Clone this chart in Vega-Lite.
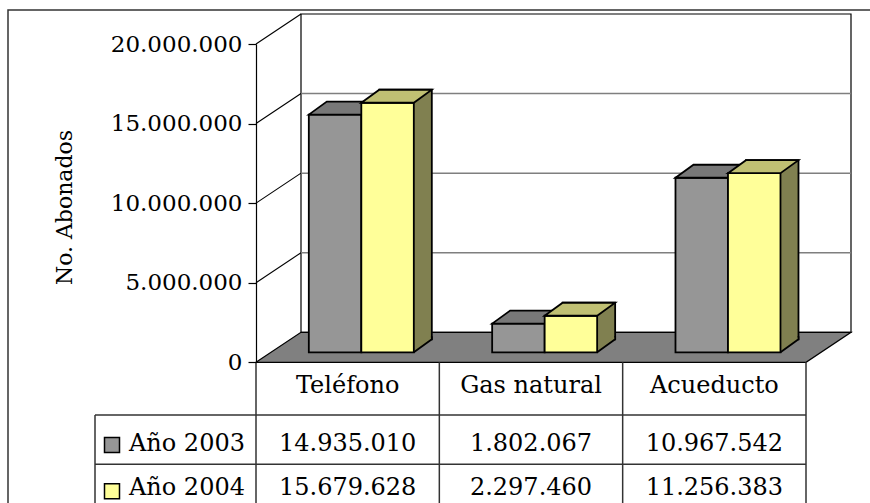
{
  "$schema": "https://vega.github.io/schema/vega-lite/v6.json",
  "width": 863,
  "height": 494,
  "autosize": {"type": "none"},
  "padding": {"left": 8, "top": 10, "right": 0, "bottom": 0},
  "background": "white",
  "config": {
    "view": {"stroke": "#333333", "strokeWidth": 1.5},
    "locale": {"number": {"decimal": ",", "thousands": ".", "grouping": [3], "currency": ["$", ""]}},
    "font": "DejaVu Serif"
  },
  "datasets": {
    "abonados": [
      {"servicio": "Teléfono", "serie": "Año 2003", "abonados": 14935010},
      {"servicio": "Gas natural", "serie": "Año 2003", "abonados": 1802067},
      {"servicio": "Acueducto", "serie": "Año 2003", "abonados": 10967542},
      {"servicio": "Teléfono", "serie": "Año 2004", "abonados": 15679628},
      {"servicio": "Gas natural", "serie": "Año 2004", "abonados": 2297460},
      {"servicio": "Acueducto", "serie": "Año 2004", "abonados": 11256383}
    ],
    "series": [{"serie": "Año 2003"}, {"serie": "Año 2004"}],
    "uno": [{"k": 1}]
  },
  "resolve": {"scale": {"y": "independent"}},
  "layer": [
    {
      "layer": [
        {
          "data": {"name": "uno"},
          "mark": {"type": "point", "shape": "M45,-30L45,-348.3L595,-348.3L595,-30Z", "size": 4, "filled": true, "fill": "white", "stroke": "black", "strokeWidth": 1.2, "opacity": 1},
          "encoding": {
            "x": {"datum": "Teléfono", "type": "nominal", "bandPosition": 0, "scale": {"domain": ["Teléfono", "Gas natural", "Acueducto"], "range": [248, 798], "paddingInner": 0, "paddingOuter": 0}, "axis": null},
            "y": {"datum": 0, "type": "quantitative", "scale": {"domain": [0, 20000000], "range": [352.3, 34], "nice": false, "zero": false},
              "axis": {"title": "No. Abonados", "values": [0, 5000000, 10000000, 15000000, 20000000], "format": ",d", "offset": -248, "domainColor": "black", "domainWidth": 1.2, "tickColor": "black", "tickSize": 8, "tickWidth": 1.2, "labelFont": "DejaVu Serif", "labelFontSize": 23, "labelColor": "black", "labelPadding": 6, "labelFlush": false, "grid": false, "titleFont": "DejaVu Serif", "titleFontSize": 22, "titleFontWeight": "normal", "titleColor": "black", "titleAngle": -90, "titleX": -185, "titleY": 197, "titleAlign": "center", "titleBaseline": "alphabetic", "zindex": 1}}
          }
        },
        {
          "data": {"values": [{"nivel": 5000000}, {"nivel": 10000000}, {"nivel": 15000000}]},
          "mark": {"type": "point", "shape": "M45,-30L595,-30", "size": 4, "filled": false, "stroke": "#7f7f7f", "strokeWidth": 1.5, "opacity": 1},
          "encoding": {
            "x": {"datum": "Teléfono", "type": "nominal", "bandPosition": 0},
            "y": {"field": "nivel", "type": "quantitative"}
          }
        },
        {
          "data": {"values": [{"nivel": 5000000}, {"nivel": 10000000}, {"nivel": 15000000}, {"nivel": 20000000}]},
          "mark": {"type": "point", "shape": "M0,0L45,-30", "size": 4, "filled": false, "stroke": "black", "strokeWidth": 1.1, "opacity": 1},
          "encoding": {
            "x": {"datum": "Teléfono", "type": "nominal", "bandPosition": 0},
            "y": {"field": "nivel", "type": "quantitative"}
          }
        },
        {
          "data": {"name": "uno"},
          "mark": {"type": "point", "shape": "M0,0L45,-30L595,-30L550,0Z", "size": 4, "filled": true, "fill": "#808080", "stroke": "black", "strokeWidth": 1.2, "opacity": 1},
          "encoding": {
            "x": {"datum": "Teléfono", "type": "nominal", "bandPosition": 0},
            "y": {"datum": 0, "type": "quantitative"}
          }
        },
        {
          "data": {"name": "abonados"},
          "transform": [{"filter": "datum.serie === 'Año 2003'"}],
          "mark": {"type": "bar", "width": 52.5, "fill": "#969696", "stroke": "black", "strokeWidth": 1.8, "xOffset": -12.6, "yOffset": -10, "y2Offset": -10},
          "encoding": {
            "x": {"field": "servicio", "type": "nominal"},
            "y": {"field": "abonados", "type": "quantitative"}
          }
        },
        {
          "data": {"name": "abonados"},
          "transform": [{"filter": "datum.serie === 'Año 2003'"}],
          "mark": {"type": "point", "shape": "M-26.25,0L-8.25,-13L44.25,-13L26.25,0Z", "size": 4, "filled": true, "fill": "#787878", "stroke": "black", "strokeWidth": 1.8, "opacity": 1, "xOffset": -12.6, "yOffset": -10},
          "encoding": {
            "x": {"field": "servicio", "type": "nominal"},
            "y": {"field": "abonados", "type": "quantitative"}
          }
        },
        {
          "data": {"name": "abonados"},
          "transform": [{"filter": "datum.serie === 'Año 2004'"}],
          "mark": {"type": "bar", "width": 52.5, "fill": "#808050", "stroke": "black", "strokeWidth": 1.8, "xOffset": 57.9, "yOffset": -23, "y2Offset": -23},
          "encoding": {
            "x": {"field": "servicio", "type": "nominal"},
            "y": {"field": "abonados", "type": "quantitative"}
          }
        },
        {
          "data": {"name": "abonados"},
          "transform": [{"filter": "datum.serie === 'Año 2004'"}],
          "mark": {"type": "point", "shape": "M26.25,0L44.25,-13L44.25,-15L26.25,-15Z", "size": 4, "filled": true, "fill": "#808050", "strokeWidth": 0, "opacity": 1, "xOffset": 39.9, "yOffset": -10},
          "encoding": {
            "x": {"field": "servicio", "type": "nominal"},
            "y": {"datum": 0, "type": "quantitative"}
          }
        },
        {
          "data": {"name": "abonados"},
          "transform": [{"filter": "datum.serie === 'Año 2004'"}],
          "mark": {"type": "point", "shape": "M26.25,0L44.25,-13L44.25,-16", "size": 4, "filled": false, "stroke": "black", "strokeWidth": 1.8, "opacity": 1, "xOffset": 39.9, "yOffset": -10},
          "encoding": {
            "x": {"field": "servicio", "type": "nominal"},
            "y": {"datum": 0, "type": "quantitative"}
          }
        },
        {
          "data": {"name": "abonados"},
          "transform": [{"filter": "datum.serie === 'Año 2004'"}],
          "mark": {"type": "bar", "width": 52.5, "fill": "#ffff99", "stroke": "black", "strokeWidth": 1.8, "xOffset": 39.9, "yOffset": -10, "y2Offset": -10},
          "encoding": {
            "x": {"field": "servicio", "type": "nominal"},
            "y": {"field": "abonados", "type": "quantitative"}
          }
        },
        {
          "data": {"name": "abonados"},
          "transform": [{"filter": "datum.serie === 'Año 2004'"}],
          "mark": {"type": "point", "shape": "M-26.25,0L-8.25,-13L44.25,-13L26.25,0Z", "size": 4, "filled": true, "fill": "#c0c073", "stroke": "black", "strokeWidth": 1.8, "opacity": 1, "xOffset": 39.9, "yOffset": -10},
          "encoding": {
            "x": {"field": "servicio", "type": "nominal"},
            "y": {"field": "abonados", "type": "quantitative"}
          }
        },
        {
          "data": {"name": "abonados"},
          "transform": [{"filter": "datum.serie === 'Año 2003'"}],
          "mark": {"type": "text", "font": "DejaVu Serif", "fontSize": 24, "fill": "black", "align": "center", "baseline": "alphabetic", "dy": 30.4},
          "encoding": {
            "x": {"field": "servicio", "type": "nominal"},
            "y": {"datum": 0, "type": "quantitative"},
            "text": {"field": "servicio", "type": "nominal"}
          }
        }
      ]
    },
    {
      "layer": [
        {
          "data": {"name": "series"},
          "mark": {"type": "point", "shape": "M-161,0L550,0", "size": 4, "filled": false, "stroke": "#333333", "strokeWidth": 1.5, "opacity": 1, "yOffset": -24.65},
          "encoding": {
            "x": {"datum": "Teléfono", "type": "nominal", "bandPosition": 0},
            "y": {"field": "serie", "type": "nominal", "scale": {"domain": ["Año 2003", "Año 2004"], "range": [405, 503.6], "paddingInner": 0, "paddingOuter": 0}, "axis": null}
          }
        },
        {
          "data": {"name": "uno"},
          "mark": {"type": "point", "shape": "M-161,-24.65L-161,90", "size": 4, "filled": false, "stroke": "#333333", "strokeWidth": 1.5, "opacity": 1},
          "encoding": {
            "x": {"datum": "Teléfono", "type": "nominal", "bandPosition": 0},
            "y": {"datum": "Año 2003", "type": "nominal"}
          }
        },
        {
          "data": {"name": "abonados"},
          "transform": [{"filter": "datum.serie === 'Año 2003'"}],
          "mark": {"type": "point", "shape": "M0,-77.35L0,90", "size": 4, "filled": false, "stroke": "#333333", "strokeWidth": 1.5, "opacity": 1},
          "encoding": {
            "x": {"field": "servicio", "type": "nominal", "bandPosition": 0},
            "y": {"datum": "Año 2003", "type": "nominal"}
          }
        },
        {
          "data": {"name": "uno"},
          "mark": {"type": "point", "shape": "M0,-77.35L0,90", "size": 4, "filled": false, "stroke": "#333333", "strokeWidth": 1.5, "opacity": 1},
          "encoding": {
            "x": {"datum": "Acueducto", "type": "nominal", "bandPosition": 1},
            "y": {"datum": "Año 2003", "type": "nominal"}
          }
        },
        {
          "data": {"name": "series"},
          "transform": [{"filter": "datum.serie === 'Año 2003'"}],
          "mark": {"type": "point", "shape": "square", "size": 225, "filled": true, "stroke": "black", "strokeWidth": 1.5, "opacity": 1, "xOffset": -144, "yOffset": 5.3},
          "encoding": {
            "x": {"datum": "Teléfono", "type": "nominal", "bandPosition": 0},
            "y": {"field": "serie", "type": "nominal"},
            "fill": {"field": "serie", "type": "nominal", "scale": {"domain": ["Año 2003", "Año 2004"], "range": ["#969696", "#ffff99"]}, "legend": null}
          }
        },
        {
          "data": {"name": "series"},
          "transform": [{"filter": "datum.serie === 'Año 2004'"}],
          "mark": {"type": "point", "shape": "square", "size": 225, "filled": true, "stroke": "black", "strokeWidth": 1.5, "opacity": 1, "xOffset": -144, "yOffset": 2.2},
          "encoding": {
            "x": {"datum": "Teléfono", "type": "nominal", "bandPosition": 0},
            "y": {"field": "serie", "type": "nominal"},
            "fill": {"field": "serie", "type": "nominal", "legend": null}
          }
        },
        {
          "data": {"name": "series"},
          "transform": [{"filter": "datum.serie === 'Año 2003'"}],
          "mark": {"type": "text", "font": "DejaVu Serif", "fontSize": 24, "fill": "black", "align": "left", "baseline": "alphabetic", "dx": -127, "dy": 11},
          "encoding": {
            "x": {"datum": "Teléfono", "type": "nominal", "bandPosition": 0},
            "y": {"field": "serie", "type": "nominal"},
            "text": {"field": "serie", "type": "nominal"}
          }
        },
        {
          "data": {"name": "series"},
          "transform": [{"filter": "datum.serie === 'Año 2004'"}],
          "mark": {"type": "text", "font": "DejaVu Serif", "fontSize": 24, "fill": "black", "align": "left", "baseline": "alphabetic", "dx": -127, "dy": 6.5},
          "encoding": {
            "x": {"datum": "Teléfono", "type": "nominal", "bandPosition": 0},
            "y": {"field": "serie", "type": "nominal"},
            "text": {"field": "serie", "type": "nominal"}
          }
        },
        {
          "data": {"name": "abonados"},
          "transform": [{"filter": "datum.serie === 'Año 2003'"}],
          "mark": {"type": "text", "font": "DejaVu Serif", "fontSize": 24, "fill": "black", "align": "center", "baseline": "alphabetic", "dy": 11},
          "encoding": {
            "x": {"field": "servicio", "type": "nominal"},
            "y": {"field": "serie", "type": "nominal"},
            "text": {"field": "abonados", "type": "quantitative", "format": ",d"}
          }
        },
        {
          "data": {"name": "abonados"},
          "transform": [{"filter": "datum.serie === 'Año 2004'"}],
          "mark": {"type": "text", "font": "DejaVu Serif", "fontSize": 24, "fill": "black", "align": "center", "baseline": "alphabetic", "dy": 6.5},
          "encoding": {
            "x": {"field": "servicio", "type": "nominal"},
            "y": {"field": "serie", "type": "nominal"},
            "text": {"field": "abonados", "type": "quantitative", "format": ",d"}
          }
        }
      ]
    }
  ]
}
